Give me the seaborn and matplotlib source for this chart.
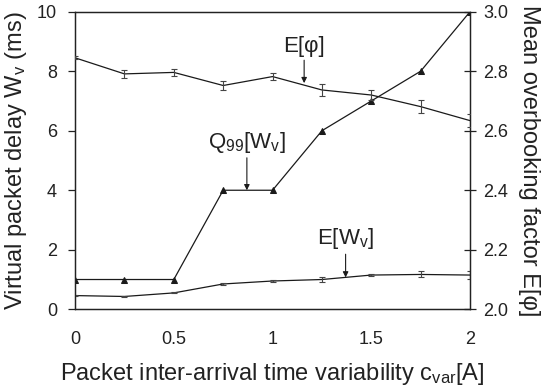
import matplotlib
matplotlib.use("Agg")
import matplotlib.pyplot as plt
import numpy as np
import pandas as pd
import seaborn as sns

# Packet inter-arrival time variability
cvar = [0, 0.25, 0.5, 0.75, 1.0, 1.25, 1.5, 1.75, 2.0]

# 99th percentile of virtual packet delay (ms)
q99_delay = [1, 1, 1, 4, 4, 6, 7, 8, 10]

# Mean virtual packet delay (ms) with error half-widths
mean_delay = [0.46, 0.43, 0.55, 0.85, 0.95, 1.00, 1.15, 1.17, 1.15]
mean_delay_err = [0.02, 0.02, 0.02, 0.04, 0.05, 0.09, 0.04, 0.10, 0.12]

# Mean overbooking factor with error half-widths
overbooking = [2.845, 2.791, 2.796, 2.752, 2.782, 2.737, 2.720, 2.681, 2.634]
overbooking_err = [0.005, 0.013, 0.012, 0.014, 0.012, 0.020, 0.016, 0.022, 0.022]

x_ticks = [0, 0.5, 1, 1.5, 2]
x_tick_labels = ["0", "0.5", "1", "1.5", "2"]
left_ticks = [0, 2, 4, 6, 8, 10]
right_ticks = [2.0, 2.2, 2.4, 2.6, 2.8, 3.0]

sns.set_style("white")
plt.rcParams["font.family"] = ["Liberation Sans", "DejaVu Sans"]
plt.rcParams["mathtext.fontset"] = "custom"
plt.rcParams["mathtext.rm"] = "Liberation Sans"
plt.rcParams["mathtext.it"] = "Liberation Sans"

df = pd.DataFrame({
    "cvar": cvar,
    "q99": q99_delay,
    "mean": mean_delay,
    "mean_err": mean_delay_err,
    "phi": overbooking,
    "phi_err": overbooking_err,
})

line_col = "#1a1a1a"
err_col = "#444444"
text_col = "#222222"

fig = plt.figure(figsize=(5.44, 3.90), dpi=100)
ax = fig.add_axes([0.138, 0.207, 0.726, 0.763])
ax2 = ax.twinx()

# Left axis: delay curves
sns.lineplot(data=df, x="cvar", y="q99", ax=ax, color=line_col, lw=0.9,
             marker="^", markersize=5, markeredgecolor=line_col, zorder=3)
sns.lineplot(data=df, x="cvar", y="mean", ax=ax, color=line_col, lw=0.9, zorder=3)
ax.errorbar(df["cvar"], df["mean"], yerr=df["mean_err"], fmt="none",
            ecolor=err_col, elinewidth=0.8, capsize=2.5, capthick=0.8, zorder=3)

# Right axis: overbooking factor
sns.lineplot(data=df, x="cvar", y="phi", ax=ax2, color=line_col, lw=0.9, zorder=3)
ax2.errorbar(df["cvar"], df["phi"], yerr=df["phi_err"], fmt="none",
             ecolor=err_col, elinewidth=0.8, capsize=2.5, capthick=0.8, zorder=3)

ax.set_xlim(0, 2)
ax.set_ylim(0, 10)
ax2.set_ylim(2.0, 3.0)

ax.set_xticks(x_ticks)
ax.set_xticklabels(x_tick_labels)
ax.set_yticks(left_ticks)
ax2.set_yticks(right_ticks)
ax2.set_yticklabels([f"{v:.1f}" for v in right_ticks])

ax.tick_params(axis="x", direction="out", length=5, width=0.9, colors=text_col,
               labelsize=13, pad=11)
ax.tick_params(axis="y", direction="out", length=5, width=0.9, colors=text_col,
               labelsize=13, pad=8)
ax2.tick_params(axis="y", direction="inout", length=9, width=0.9, colors=text_col,
                labelsize=13, pad=5)

for a in (ax, ax2):
    for s in a.spines.values():
        s.set_color(text_col)
        s.set_linewidth(0.9)

ax.set_xlabel(r"Packet inter-arrival time variability c$_{\mathrm{var}}$[A]",
              fontsize=17, color=text_col, labelpad=9)
ax.set_ylabel(r"Virtual packet delay W$_{\mathrm{v}}$ (ms)", fontsize=17,
              color=text_col, labelpad=6)
ax2.set_ylabel("Mean overbooking factor E[φ]", fontsize=17,
               color=text_col, rotation=270, labelpad=23)

# Curve labels with pointing arrows
arrow = dict(arrowstyle="-|>", color=line_col, lw=0.8, mutation_scale=8,
             shrinkA=0, shrinkB=0)
ax2.annotate("E[φ]", xy=(1.16, 2.76), xytext=(1.16, 2.848),
             ha="center", va="bottom", fontsize=16, color=text_col,
             arrowprops=arrow)
ax.annotate(r"Q$_{99}$[W$_{\mathrm{v}}$]", xy=(0.87, 4.0), xytext=(0.87, 5.2),
            ha="center", va="bottom", fontsize=16, color=text_col,
            arrowprops=arrow)
ax.annotate(r"E[W$_{\mathrm{v}}$]", xy=(1.37, 1.07), xytext=(1.37, 1.96),
            ha="center", va="bottom", fontsize=16, color=text_col,
            arrowprops=arrow)

fig.savefig("out.png", dpi=100)
